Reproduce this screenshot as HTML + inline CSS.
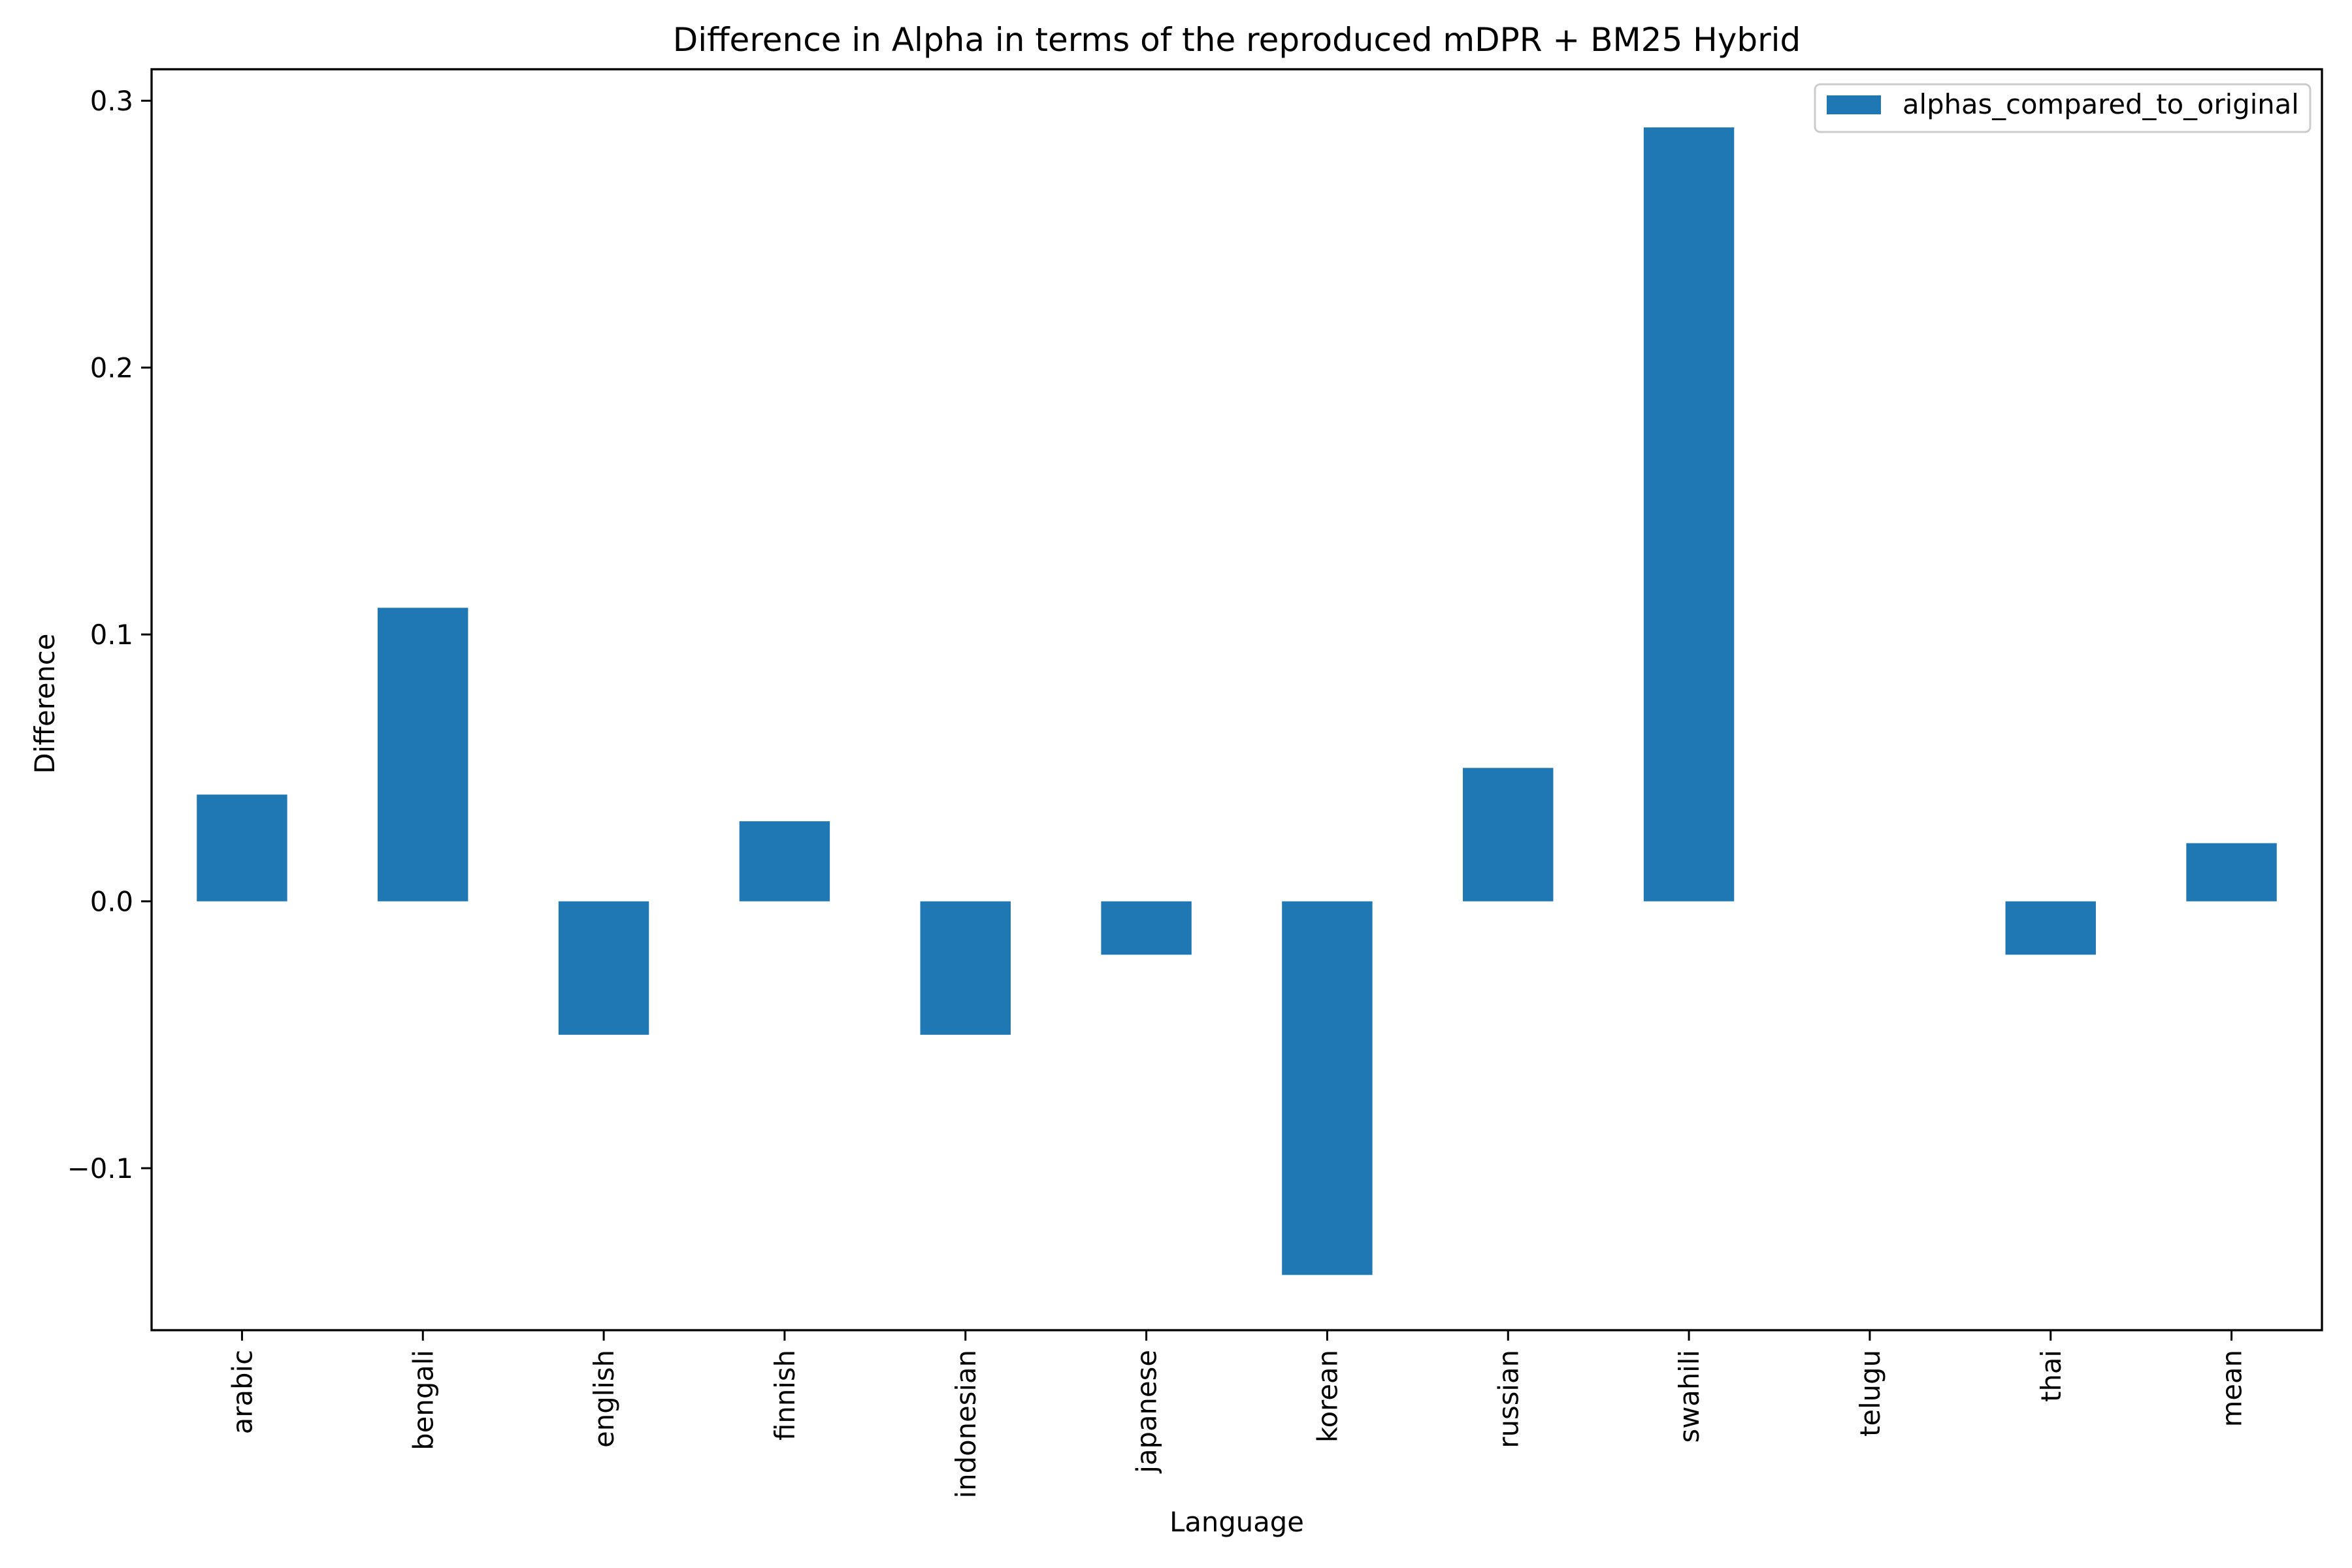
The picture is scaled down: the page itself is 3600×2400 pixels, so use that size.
<!DOCTYPE html>
<html><head><meta charset="utf-8"><style>
html,body{margin:0;padding:0;background:#fff;}
svg{display:block;font-family:"DejaVu Sans","Liberation Sans",sans-serif;}
</style></head><body>
<svg id="chart" width="3600" height="2400" viewBox="0 0 3600 2400">
<rect width="3600" height="2400" fill="#fff"/>
<text x="1893" y="78" font-size="50" text-anchor="middle">Difference in Alpha in terms of the reproduced mDPR + BM25 Hybrid</text>
<g id="bars"></g>
<g id="yaxis"></g>
<g id="xaxis"></g>
<rect x="232" y="106" width="3322" height="1930" fill="none" stroke="#000" stroke-width="3.3"/>
<text x="1893" y="2344" font-size="41.7" text-anchor="middle">Language</text>
<text transform="translate(83,1077) rotate(-90)" font-size="41.7" text-anchor="middle">Difference</text>
<g>
<rect x="2778" y="129" width="758" height="73" rx="8" fill="#fff" stroke="#ccc" stroke-width="3"/>
<rect x="2796" y="146" width="83" height="29" fill="#1f77b4"/>
<text x="2912" y="174" font-size="41.7">alphas_compared_to_original</text>
</g>
</svg>
<script>
const categories=["arabic","bengali","english","finnish","indonesian","japanese","korean","russian","swahili","telugu","thai","mean"];
const values=[0.04,0.11,-0.05,0.03,-0.05,-0.02,-0.14,0.05,0.29,0.0,-0.02,0.0218];
const yTicks=[-0.1,0.0,0.1,0.2,0.3];
const yTickLabels=["\u22120.1","0.0","0.1","0.2","0.3"];
const NS="http://www.w3.org/2000/svg";
const L=232,R=3554,T=106,B=2036,yMin=-0.1607,yMax=0.3118;
const y=v=>B-(v-yMin)/(yMax-yMin)*(B-T);
const step=(R-L)/categories.length;
const xc=i=>L+step*(i+0.5);
function mk(tag,attrs,parent){const e=document.createElementNS(NS,tag);for(const k in attrs)e.setAttribute(k,attrs[k]);parent.appendChild(e);return e;}
const bars=document.getElementById('bars'),xa=document.getElementById('xaxis'),ya=document.getElementById('yaxis');
values.forEach((v,i)=>{
  const w=step*0.5;const top=Math.min(y(v),y(0)),h=Math.abs(y(v)-y(0));
  const r=mk('rect',{x:xc(i)-w/2,y:top,width:w,height:h,fill:'#1f77b4'},bars);
  
  
});
categories.forEach((c,i)=>{
  const t=mk('line',{x1:xc(i),x2:xc(i),y1:B,y2:B+16,stroke:'#000','stroke-width':3},xa);
  
  
  const tx=mk('text',{transform:`translate(${xc(i)+15},${B+30}) rotate(-90)`,'font-size':41.7,'text-anchor':'end'},xa);
  tx.textContent=c;
  
  
});
yTicks.forEach((v,i)=>{
  const t=mk('line',{x1:L-16,x2:L,y1:y(v),y2:y(v),stroke:'#000','stroke-width':3},ya);
  
  
  const tx=mk('text',{x:L-28,y:y(v)+15,'font-size':41.7,'text-anchor':'end'},ya);
  tx.textContent=yTickLabels[i];
  
  
});
</script>
</body></html>
